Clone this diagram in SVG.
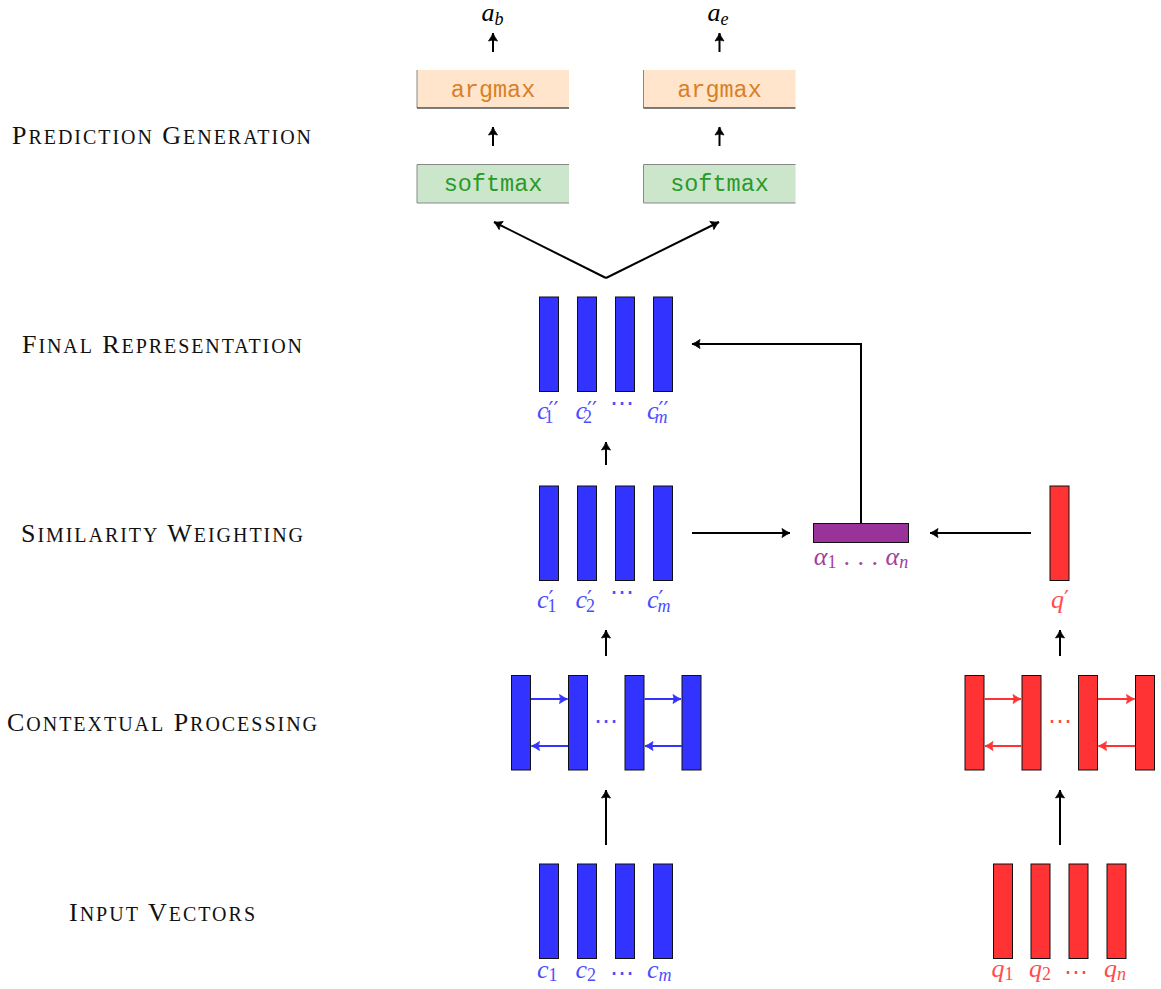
<svg xmlns="http://www.w3.org/2000/svg" width="1161" height="989" viewBox="0 0 1161 989">
<style>
.lab{font-family:"Liberation Serif","Times New Roman",serif;font-size:26px;fill:#111;text-anchor:middle}
.sc{font-size:20px}
.m{font-family:"Liberation Serif","Times New Roman",serif;font-size:26px;font-style:italic}
.sub{font-size:18px;font-style:normal}
.subi{font-size:18px;font-style:italic}
.pr{font-family:"DejaVu Sans",sans-serif;font-size:22px;font-style:normal}
.dots{font-family:"DejaVu Serif",serif;font-style:normal;font-size:24px}
.tt{font-family:"Liberation Mono","Courier New",monospace;font-size:23.5px;text-anchor:middle}
.bb{fill:#3333ff;stroke:#111;stroke-width:1}
.rb{fill:#ff3333;stroke:#111;stroke-width:1}
.blue{fill:#4d4dff}
.red{fill:#ff4d4d}
.conn{fill:none;stroke:#000;stroke-width:2}
.cb{fill:none;stroke:#3333ff;stroke-width:2}
.cr{fill:none;stroke:#ff3333;stroke-width:2}
</style>
<defs>
<marker id="ah" viewBox="-10 -6 12 12" refX="0" refY="0" markerWidth="12" markerHeight="12" markerUnits="userSpaceOnUse" orient="auto">
<path d="M-8,-4.5 Q-3,-1 0,0 Q-3,1 -8,4.5 Q-6,0 -8,-4.5 Z" fill="#000" stroke="#000" stroke-width="0.8" stroke-linejoin="round"/>
</marker>
<marker id="ahb" viewBox="-10 -6 12 12" refX="0" refY="0" markerWidth="12" markerHeight="12" markerUnits="userSpaceOnUse" orient="auto">
<path d="M-8,-4.5 Q-3,-1 0,0 Q-3,1 -8,4.5 Q-6,0 -8,-4.5 Z" fill="#3333ff" stroke="#3333ff" stroke-width="0.8" stroke-linejoin="round"/>
</marker>
<marker id="ahr" viewBox="-10 -6 12 12" refX="0" refY="0" markerWidth="12" markerHeight="12" markerUnits="userSpaceOnUse" orient="auto">
<path d="M-8,-4.5 Q-3,-1 0,0 Q-3,1 -8,4.5 Q-6,0 -8,-4.5 Z" fill="#ff3333" stroke="#ff3333" stroke-width="0.8" stroke-linejoin="round"/>
</marker>
</defs>
<rect width="1161" height="989" fill="#fff"/>

<g id="stage-labels">
<text class="lab" x="161.5" y="144" textLength="299" lengthAdjust="spacing">P<tspan class="sc">REDICTION</tspan> G<tspan class="sc">ENERATION</tspan></text>
<text class="lab" x="162" y="353" textLength="280" lengthAdjust="spacing">F<tspan class="sc">INAL</tspan> R<tspan class="sc">EPRESENTATION</tspan></text>
<text class="lab" x="162" y="542" textLength="282" lengthAdjust="spacing">S<tspan class="sc">IMILARITY</tspan> W<tspan class="sc">EIGHTING</tspan></text>
<text class="lab" x="162" y="731" textLength="310" lengthAdjust="spacing">C<tspan class="sc">ONTEXTUAL</tspan> P<tspan class="sc">ROCESSING</tspan></text>
<text class="lab" x="162" y="920.5" textLength="186" lengthAdjust="spacing">I<tspan class="sc">NPUT</tspan> V<tspan class="sc">ECTORS</tspan></text>
</g>

<g id="out-ab">
<text class="m" x="481.5" y="21" font-size="23">a<tspan class="subi" font-size="16" dy="4">b</tspan></text>
</g>
<g id="out-ae">
<text class="m" x="707.5" y="21" font-size="23">a<tspan class="subi" font-size="16" dy="4">e</tspan></text>
</g>

<g id="argmax-b">
<rect x="417" y="70" width="152" height="38" fill="#ffe5cc"/>
<line x1="417" y1="70" x2="417" y2="108" stroke="#888" stroke-width="1"/>
<line x1="417" y1="108" x2="569" y2="108" stroke="#000" stroke-width="1.2"/>
<text class="tt" x="493" y="97" fill="#d98026">argmax</text>
</g>
<g id="argmax-e">
<rect x="643.5" y="70" width="152" height="38" fill="#ffe5cc"/>
<line x1="643.5" y1="70" x2="643.5" y2="108" stroke="#888" stroke-width="1"/>
<line x1="643.5" y1="108" x2="795.5" y2="108" stroke="#000" stroke-width="1.2"/>
<text class="tt" x="719.5" y="97" fill="#d98026">argmax</text>
</g>
<g id="softmax-b">
<rect x="417" y="164.5" width="152" height="38.5" fill="#cce6cc"/>
<path d="M569,164.5 H417 V203 H569" fill="none" stroke="#888" stroke-width="1"/>
<text class="tt" x="493" y="191" fill="#2a9a2a">softmax</text>
</g>
<g id="softmax-e">
<rect x="643.5" y="164.5" width="152" height="38.5" fill="#cce6cc"/>
<path d="M795.5,164.5 H643.5 V203 H795.5" fill="none" stroke="#888" stroke-width="1"/>
<text class="tt" x="719.5" y="191" fill="#2a9a2a">softmax</text>
</g>

<g id="final-c">
<rect class="bb" x="539.5" y="297" width="19" height="94.5"/>
<rect class="bb" x="577.5" y="297" width="19" height="94.5"/>
<rect class="bb" x="615.5" y="297" width="19" height="94.5"/>
<rect class="bb" x="653.5" y="297" width="19" height="94.5"/>
<text class="m blue" x="537" y="419">c<tspan class="pr" dx="0" dy="-2">′′</tspan><tspan class="sub" dx="-14" dy="6">1</tspan></text>
<text class="m blue" x="575.5" y="419">c<tspan class="pr" dx="0" dy="-2">′′</tspan><tspan class="sub" dx="-14" dy="6">2</tspan></text>
<text class="m blue dots" x="622" y="411" text-anchor="middle">⋯</text>
<text class="m blue" x="647" y="419">c<tspan class="pr" dx="0" dy="-2">′′</tspan><tspan class="subi" dx="-14" dy="6">m</tspan></text>
</g>

<g id="sim-c">
<rect class="bb" x="539.5" y="486" width="19" height="94.5"/>
<rect class="bb" x="577.5" y="486" width="19" height="94.5"/>
<rect class="bb" x="615.5" y="486" width="19" height="94.5"/>
<rect class="bb" x="653.5" y="486" width="19" height="94.5"/>
<text class="m blue" x="537" y="608">c<tspan class="pr" dx="0" dy="-2">′</tspan><tspan class="sub" dx="-6" dy="6">1</tspan></text>
<text class="m blue" x="575.5" y="608">c<tspan class="pr" dx="0" dy="-2">′</tspan><tspan class="sub" dx="-6" dy="6">2</tspan></text>
<text class="m blue dots" x="622" y="600" text-anchor="middle">⋯</text>
<text class="m blue" x="647" y="608">c<tspan class="pr" dx="0" dy="-2">′</tspan><tspan class="subi" dx="-6" dy="6">m</tspan></text>
</g>

<g id="alpha">
<rect x="813.5" y="523.5" width="95" height="19" fill="#993399" stroke="#111" stroke-width="1"/>
<text class="m" x="861" y="565" text-anchor="middle" fill="#a040a0">α<tspan class="sub" dy="3">1</tspan><tspan font-style="normal" dy="-3" letter-spacing="0.5"> . . . </tspan>α<tspan class="subi" dy="3">n</tspan></text>
</g>

<g id="qprime">
<rect class="rb" x="1050" y="486" width="19" height="94.5"/>
<text class="m red" x="1060" y="608" text-anchor="middle">q<tspan class="pr" dx="0" dy="-2">′</tspan></text>
</g>

<g id="ctx-c">
<rect class="bb" x="511.5" y="675.5" width="19" height="94.5"/>
<rect class="bb" x="568.5" y="675.5" width="19" height="94.5"/>
<rect class="bb" x="625" y="675.5" width="19" height="94.5"/>
<rect class="bb" x="682" y="675.5" width="19" height="94.5"/>
<line class="cb" x1="531" y1="699" x2="567.5" y2="699" marker-end="url(#ahb)"/>
<line class="cb" x1="568" y1="746" x2="531.5" y2="746" marker-end="url(#ahb)"/>
<line class="cb" x1="644.5" y1="699" x2="681" y2="699" marker-end="url(#ahb)"/>
<line class="cb" x1="682" y1="746" x2="645" y2="746" marker-end="url(#ahb)"/>
<text class="m blue dots" x="606" y="729" text-anchor="middle">⋯</text>
</g>

<g id="ctx-q">
<rect class="rb" x="965" y="675.5" width="19" height="94.5"/>
<rect class="rb" x="1022" y="675.5" width="19" height="94.5"/>
<rect class="rb" x="1078.5" y="675.5" width="19" height="94.5"/>
<rect class="rb" x="1135.5" y="675.5" width="19" height="94.5"/>
<line class="cr" x1="984.5" y1="699" x2="1021" y2="699" marker-end="url(#ahr)"/>
<line class="cr" x1="1021.5" y1="746" x2="985" y2="746" marker-end="url(#ahr)"/>
<line class="cr" x1="1098" y1="699" x2="1134.5" y2="699" marker-end="url(#ahr)"/>
<line class="cr" x1="1135" y1="746" x2="1098.5" y2="746" marker-end="url(#ahr)"/>
<text class="m red dots" x="1059.5" y="729" text-anchor="middle">⋯</text>
</g>

<g id="input-c">
<rect class="bb" x="539.5" y="864" width="19" height="94.5"/>
<rect class="bb" x="577.5" y="864" width="19" height="94.5"/>
<rect class="bb" x="615.5" y="864" width="19" height="94.5"/>
<rect class="bb" x="653.5" y="864" width="19" height="94.5"/>
<text class="m blue" x="537" y="978">c<tspan class="sub" dy="3">1</tspan></text>
<text class="m blue" x="575.5" y="978">c<tspan class="sub" dy="3">2</tspan></text>
<text class="m blue dots" x="622" y="981" text-anchor="middle">⋯</text>
<text class="m blue" x="647" y="978">c<tspan class="subi" dy="3">m</tspan></text>
</g>

<g id="input-q">
<rect class="rb" x="993.5" y="864" width="19" height="94.5"/>
<rect class="rb" x="1031" y="864" width="19" height="94.5"/>
<rect class="rb" x="1069" y="864" width="19" height="94.5"/>
<rect class="rb" x="1107" y="864" width="19" height="94.5"/>
<text class="m red" x="991.5" y="977">q<tspan class="sub" dy="3">1</tspan></text>
<text class="m red" x="1029" y="977">q<tspan class="sub" dy="3">2</tspan></text>
<text class="m red dots" x="1075.5" y="980" text-anchor="middle">⋯</text>
<text class="m red" x="1104" y="977">q<tspan class="subi" dy="3">n</tspan></text>
</g>

<g id="connectors">
<line class="conn" x1="493" y1="52" x2="493" y2="33" marker-end="url(#ah)"/>
<line class="conn" x1="719.5" y1="52" x2="719.5" y2="33" marker-end="url(#ah)"/>
<line class="conn" x1="493" y1="146" x2="493" y2="127" marker-end="url(#ah)"/>
<line class="conn" x1="719.5" y1="146" x2="719.5" y2="127" marker-end="url(#ah)"/>
<line class="conn" x1="606" y1="278" x2="494" y2="222" marker-end="url(#ah)"/>
<line class="conn" x1="606" y1="278" x2="719" y2="222" marker-end="url(#ah)"/>
<path class="conn" d="M861,523 V344 H692" marker-end="url(#ah)"/>
<line class="conn" x1="606" y1="465" x2="606" y2="442" marker-end="url(#ah)"/>
<line class="conn" x1="692" y1="533" x2="790" y2="533" marker-end="url(#ah)"/>
<line class="conn" x1="1031" y1="533" x2="930" y2="533" marker-end="url(#ah)"/>
<line class="conn" x1="606" y1="656" x2="606" y2="630" marker-end="url(#ah)"/>
<line class="conn" x1="1060" y1="656" x2="1060" y2="630" marker-end="url(#ah)"/>
<line class="conn" x1="606" y1="845" x2="606" y2="790" marker-end="url(#ah)"/>
<line class="conn" x1="1060" y1="845" x2="1060" y2="790" marker-end="url(#ah)"/>
</g>
</svg>
